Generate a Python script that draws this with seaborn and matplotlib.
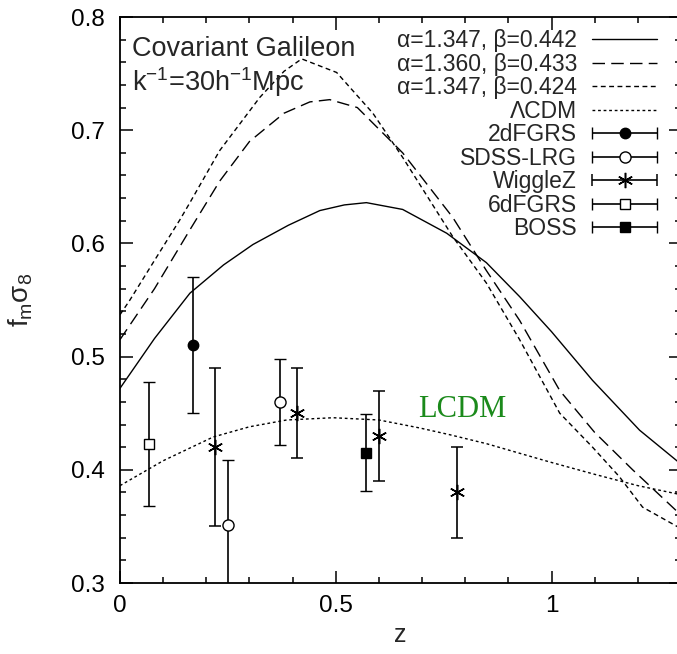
import numpy as np
import pandas as pd
import matplotlib
matplotlib.use("Agg")
import matplotlib.pyplot as plt
import seaborn as sns
from matplotlib.legend_handler import HandlerErrorbar
from matplotlib.container import ErrorbarContainer
from matplotlib.ticker import MultipleLocator

# ---------------- data ----------------
z_a = [0, 0.08, 0.162, 0.24, 0.308, 0.39, 0.463, 0.52, 0.571, 0.655, 0.757,
       0.849, 0.926, 1.0, 1.095, 1.204, 1.3]
f_a = [0.472, 0.516, 0.556, 0.581, 0.599, 0.616, 0.629, 0.634, 0.636, 0.630,
       0.609, 0.583, 0.553, 0.522, 0.479, 0.435, 0.405]

z_b = [0, 0.08, 0.162, 0.231, 0.3, 0.38, 0.44, 0.486, 0.55, 0.655, 0.771,
       0.849, 0.926, 1.019, 1.1, 1.188, 1.3]
f_b = [0.515, 0.560, 0.612, 0.655, 0.690, 0.715, 0.725, 0.727, 0.720, 0.680,
       0.623, 0.576, 0.532, 0.470, 0.433, 0.400, 0.360]

z_c = [0, 0.023, 0.08, 0.139, 0.162, 0.231, 0.324, 0.38, 0.421, 0.502, 0.586,
       0.655, 0.771, 0.849, 0.926, 1.019, 1.095, 1.157, 1.211, 1.3]
f_c = [0.537, 0.550, 0.585, 0.621, 0.636, 0.682, 0.729, 0.752, 0.763, 0.751,
       0.715, 0.676, 0.606, 0.565, 0.515, 0.450, 0.420, 0.394, 0.367, 0.348]

z_lcdm = [0, 0.1, 0.216, 0.3, 0.386, 0.494, 0.6, 0.694, 0.764, 0.85, 0.995,
          1.1, 1.2, 1.3]
f_lcdm = [0.386, 0.408, 0.429, 0.438, 0.444, 0.446, 0.444, 0.437, 0.431, 0.423,
          0.407, 0.396, 0.386, 0.378]

curve_labels = ["α=1.347, β=0.442", "α=1.360, β=0.433",
                "α=1.347, β=0.424", "ΛCDM"]

# observational data
z_2df, f_2df, e_2df = [0.17], [0.51], [0.06]
z_sdss, f_sdss, e_sdss = [0.25, 0.37], [0.351, 0.460], [0.058, 0.038]
z_wig, f_wig, e_wig = [0.22, 0.41, 0.60, 0.78], [0.42, 0.45, 0.43, 0.38], [0.07, 0.04, 0.04, 0.04]
z_6df, f_6df, e_6df = [0.067], [0.423], [0.055]
z_boss, f_boss, e_boss = [0.57], [0.415], [0.034]
data_labels = ["2dFGRS", "SDSS-LRG", "WiggleZ", "6dFGRS", "BOSS"]

xtick_vals, xtick_labels = [0, 0.5, 1], ["0", "0.5", "1"]
ytick_vals = [0.3, 0.4, 0.5, 0.6, 0.7, 0.8]
ytick_labels = ["0.3", "0.4", "0.5", "0.6", "0.7", "0.8"]

# ---------------- style ----------------
sns.set_theme(style="ticks")
plt.rcParams["font.family"] = ["Liberation Sans", "DejaVu Sans"]
plt.rcParams["mathtext.fontset"] = "custom"
plt.rcParams["mathtext.rm"] = "Liberation Sans"
plt.rcParams["mathtext.it"] = "Liberation Serif:italic"
plt.rcParams["mathtext.default"] = "regular"
plt.rcParams["lines.scale_dashes"] = False

fig = plt.figure(figsize=(6.77, 6.54), dpi=100)
ax = fig.add_axes([120 / 677, 71 / 654, 561 / 677, 566 / 654])

lw = 1.0
styles = [dict(color="black", lw=lw, ls="-"),
          dict(color="black", lw=lw, dashes=(9, 4.5)),
          dict(color="black", lw=lw, dashes=(3.5, 2.5)),
          dict(color="black", lw=lw, dashes=(2, 2))]
curves = [(z_a, f_a), (z_b, f_b), (z_c, f_c), (z_lcdm, f_lcdm)]
handles = []
for (zz, ff), st, lab in zip(curves, styles, curve_labels):
    df = pd.DataFrame({"z": zz, "f": ff})
    sns.lineplot(data=df, x="z", y="f", ax=ax, estimator=None, sort=False, **st)
    h, = ax.plot([np.nan], [np.nan], label=lab, **st)
    handles.append(h)

cap = 4.0
mk = dict(color="black", ecolor="black", elinewidth=1.2, capsize=cap, capthick=1.2,
          ls="none")
sets = [(z_2df, f_2df, e_2df, dict(marker="o", ms=7.5, mfc="black", mec="black", mew=1.0)),
        (z_sdss, f_sdss, e_sdss, dict(marker="o", ms=8, mfc="white", mec="black", mew=1.0)),
        (z_wig, f_wig, e_wig, dict(marker=(6, 2, 0), ms=11, mec="black", mew=1.1)),
        (z_6df, f_6df, e_6df, dict(marker="s", ms=7.5, mfc="white", mec="black", mew=1.0)),
        (z_boss, f_boss, e_boss, dict(marker="s", ms=7.5, mfc="black", mec="black", mew=1.0))]
for (zz, ff, ee, m), lab in zip(sets, data_labels):
    ax.errorbar(zz, ff, yerr=ee, zorder=5, **mk, **m)
    h = ax.errorbar([np.nan], [np.nan], xerr=[1.0], label=lab, **mk, **m)
    handles.append(h)

fs_leg = 16.5
hl = 2.85
handler = HandlerErrorbar(xerr_size=hl / 2)
leg = ax.legend(handles=handles, loc="upper right", bbox_to_anchor=(0.958, 0.978),
                frameon=False, markerfirst=False, fontsize=fs_leg, handlelength=hl,
                handletextpad=0.65, labelspacing=0.02, borderaxespad=0, borderpad=0,
                numpoints=1, handler_map={ErrorbarContainer: handler})

ax.set_xlim(0, 1.3)
ax.set_ylim(0.3, 0.8)
ax.xaxis.set_minor_locator(MultipleLocator(0.1))
ax.yaxis.set_minor_locator(MultipleLocator(0.02))
ax.set_xticks(xtick_vals)
ax.set_xticklabels(xtick_labels)
ax.set_yticks(ytick_vals)
ax.set_yticklabels(ytick_labels)
ax.tick_params(which="both", direction="in", top=True, right=True, width=1.1,
               labelsize=17.5, colors="black")
ax.tick_params(axis="y", pad=11)
ax.tick_params(axis="x", pad=9)
ax.tick_params(which="major", length=9)
ax.tick_params(which="minor", length=4.5)
for s in ax.spines.values():
    s.set_linewidth(1.3)
    s.set_color("black")

ax.set_xlabel("z", fontsize=18, labelpad=4)
ax.set_ylabel(r"$\mathrm{f_m\sigma_8}$", fontsize=20, labelpad=26)

ax.text(0.022, 0.967, "Covariant Galileon", transform=ax.transAxes, fontsize=19.5,
        va="top", ha="left")
ax.text(0.022, 0.915, r"$\mathrm{k^{-1}}$=30$\mathrm{h^{-1}}$Mpc", transform=ax.transAxes,
        fontsize=19.5, va="top", ha="left")
ax.text(0.69, 0.453, "LCDM", color="#1b8a1b", fontsize=22, family="Liberation Serif",
        va="center", ha="left")

fig.savefig("out.png", dpi=100)
